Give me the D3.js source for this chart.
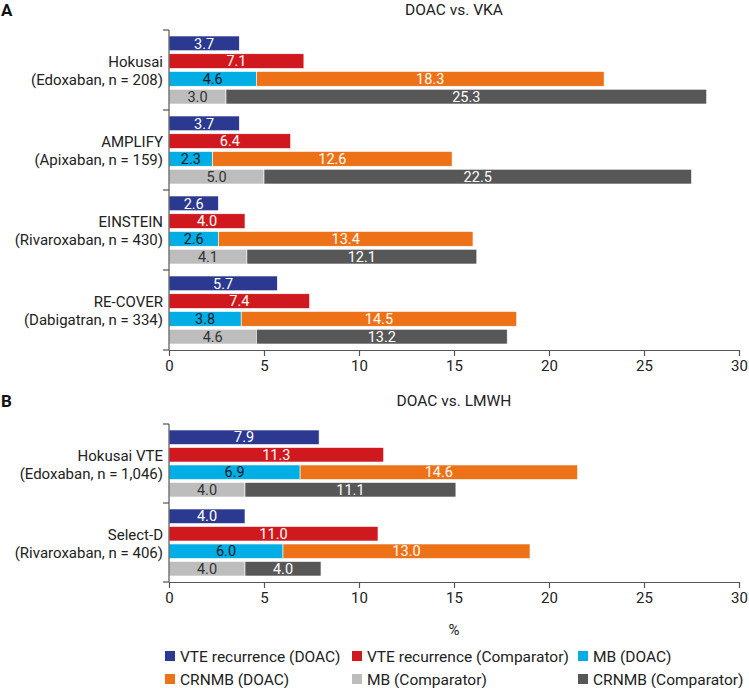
<!DOCTYPE html>
<html>
<head>
<meta charset="utf-8">
<script src="https://cdn.jsdelivr.net/npm/d3@7"></script>
<style>
  body { margin: 0; background: #fff; }
  svg { font-family: Roboto, "Open Sans", sans-serif; }
</style>
</head>
<body>
<div id="chart"></div>
<script>
// Panel A: DOAC vs. VKA
var trialsA = ['Hokusai', 'AMPLIFY', 'EINSTEIN', 'RE-COVER'];
var cohortsA = ['(Edoxaban, n = 208)', '(Apixaban, n = 159)', '(Rivaroxaban, n = 430)', '(Dabigatran, n = 334)'];
var vteDoacA = [3.7, 3.7, 2.6, 5.7];
var vteCompA = [7.1, 6.4, 4.0, 7.4];
var mbDoacA = [4.6, 2.3, 2.6, 3.8];
var crnmbDoacA = [18.3, 12.6, 13.4, 14.5];
var mbCompA = [3.0, 5.0, 4.1, 4.6];
var crnmbCompA = [25.3, 22.5, 12.1, 13.2];

// Panel B: DOAC vs. LMWH
var trialsB = ['Hokusai VTE', 'Select-D'];
var cohortsB = ['(Edoxaban, n = 1,046)', '(Rivaroxaban, n = 406)'];
var vteDoacB = [7.9, 4.0];
var vteCompB = [11.3, 11.0];
var mbDoacB = [6.9, 6.0];
var crnmbDoacB = [14.6, 13.0];
var mbCompB = [4.0, 4.0];
var crnmbCompB = [11.1, 4.0];

var xTicks = [0, 5, 10, 15, 20, 25, 30];
var seriesNames = ['VTE recurrence (DOAC)', 'VTE recurrence (Comparator)', 'MB (DOAC)',
                   'CRNMB (DOAC)', 'MB (Comparator)', 'CRNMB (Comparator)'];
var colors = ['#2b3990', '#d0191f', '#00aee6', '#ec7117', '#bdbdbd', '#575757'];
var labelColors = ['#fff', '#fff', '#1a1a1a', '#fff', '#333', '#fff'];

var width = 749, height = 688;
var svg = d3.select('#chart').append('svg')
  .attr('width', width)
  .attr('height', height);

var x = d3.scaleLinear().domain([0, 30]).range([169, 739]);

// Build the 4 bar rows per trial; rows 2 and 3 are stacked pairs
function buildRows(vd, vc, md, cd, mc, cc) {
  return vd.map(function(d, i) {
    return [
      [{ s: 0, x0: 0, v: vd[i] }],
      [{ s: 1, x0: 0, v: vc[i] }],
      [{ s: 2, x0: 0, v: md[i] }, { s: 3, x0: md[i], v: cd[i] }],
      [{ s: 4, x0: 0, v: mc[i] }, { s: 5, x0: mc[i], v: cc[i] }]
    ];
  });
}

function drawPanel(opt) {
  var g = svg.append('g');
  var y = d3.scaleBand().domain(opt.trials).range([opt.top, opt.bottom]);
  var inner = d3.scaleBand().domain([0, 1, 2, 3])
    .range([6, y.bandwidth() - 6]).paddingInner(0.17);

  // panel letter + title
  g.append('text').attr('x', 1).attr('y', opt.titleY + 1)
    .attr('font-size', 17).attr('font-weight', 'bold').attr('fill', '#111')
    .text(opt.letter);
  g.append('text').attr('x', x(15)).attr('y', opt.titleY)
    .attr('text-anchor', 'middle').attr('font-size', 15.5).attr('fill', '#222')
    .text(opt.title);

  var rows = buildRows.apply(null, opt.values);

  var groups = g.selectAll('g.trial').data(opt.trials).enter()
    .append('g').classed('trial', true)
    .attr('transform', function(d) { return 'translate(0,' + y(d) + ')'; });

  groups.each(function(t, i) {
    var tg = d3.select(this);
    rows[i].forEach(function(segs, r) {
      var seg = tg.selectAll('g.seg' + r).data(segs).enter().append('g');
      seg.append('rect')
        .attr('x', function(d) { return x(d.x0); })
        .attr('y', inner(r))
        .attr('width', function(d) { return x(d.x0 + d.v) - x(d.x0); })
        .attr('height', inner.bandwidth())
        .attr('fill', function(d) { return colors[d.s]; })
        .attr('stroke', '#fff').attr('stroke-width', 0.6);
      seg.append('text')
        .attr('x', function(d) { return x(d.x0 + d.v / 2); })
        .attr('y', inner(r) + inner.bandwidth() / 2)
        .attr('dy', '0.36em')
        .attr('text-anchor', 'middle')
        .attr('font-size', 14.5)
        .attr('fill', function(d) { return labelColors[d.s]; })
        .text(function(d) { return d.v.toFixed(1); });
    });

    var cy = y.bandwidth() / 2;
    tg.append('text').attr('x', 163).attr('y', cy - 8).attr('dy', '0.36em')
      .attr('text-anchor', 'end').attr('font-size', 15).attr('fill', '#222')
      .text(t);
    tg.append('text').attr('x', 163).attr('y', cy + 10).attr('dy', '0.36em')
      .attr('text-anchor', 'end').attr('font-size', 15).attr('fill', '#222')
      .text(opt.cohorts[i]);
  });

  // y axis: line plus ticks at the band boundaries
  var bounds = opt.trials.map(function(d) { return y(d); }).concat([opt.bottom]);
  g.append('line').attr('x1', x(0)).attr('x2', x(0))
    .attr('y1', opt.top).attr('y2', opt.bottom)
    .attr('stroke', '#555').attr('stroke-width', 1.2);
  g.selectAll('line.ytick').data(bounds).enter().append('line')
    .attr('x1', x(0) - 6).attr('x2', x(0))
    .attr('y1', function(d) { return d; }).attr('y2', function(d) { return d; })
    .attr('stroke', '#555').attr('stroke-width', 1.2);

  // x axis
  var ax = g.append('g').attr('transform', 'translate(0,' + opt.bottom + ')')
    .call(d3.axisBottom(x).tickValues(xTicks).tickSize(6).tickSizeOuter(0).tickPadding(4));
  ax.select('.domain').attr('stroke', '#555').attr('stroke-width', 1.2);
  ax.selectAll('.tick line').attr('stroke', '#555').attr('stroke-width', 1.2);
  ax.selectAll('.tick text').attr('font-size', 15).attr('fill', '#222')
    .attr('font-family', 'Roboto, sans-serif');
}

drawPanel({
  letter: 'A', title: 'DOAC vs. VKA', titleY: 15,
  top: 30, bottom: 350,
  trials: trialsA, cohorts: cohortsA,
  values: [vteDoacA, vteCompA, mbDoacA, crnmbDoacA, mbCompA, crnmbCompA]
});

drawPanel({
  letter: 'B', title: 'DOAC vs. LMWH', titleY: 406,
  top: 424, bottom: 582,
  trials: trialsB, cohorts: cohortsB,
  values: [vteDoacB, vteCompB, mbDoacB, crnmbDoacB, mbCompB, crnmbCompB]
});

// axis title
svg.append('text').attr('x', x(15)).attr('y', 635)
  .attr('text-anchor', 'middle').attr('font-size', 15).attr('fill', '#222')
  .text('%');

// legend, 3 columns x 2 rows
var legendCols = [165, 352, 578];
var legend = svg.selectAll('g.legend').data(seriesNames).enter()
  .append('g').classed('legend', true)
  .attr('transform', function(d, i) {
    return 'translate(' + legendCols[i % 3] + ',' + (656 + Math.floor(i / 3) * 23) + ')';
  });
legend.append('rect').attr('x', 0).attr('y', -5).attr('width', 10).attr('height', 10)
  .attr('fill', function(d, i) { return colors[i]; });
legend.append('text').attr('x', 15).attr('y', 0).attr('dy', '0.36em')
  .attr('font-size', 15.5).attr('fill', '#222')
  .text(function(d) { return d; });
</script>
</body>
</html>
